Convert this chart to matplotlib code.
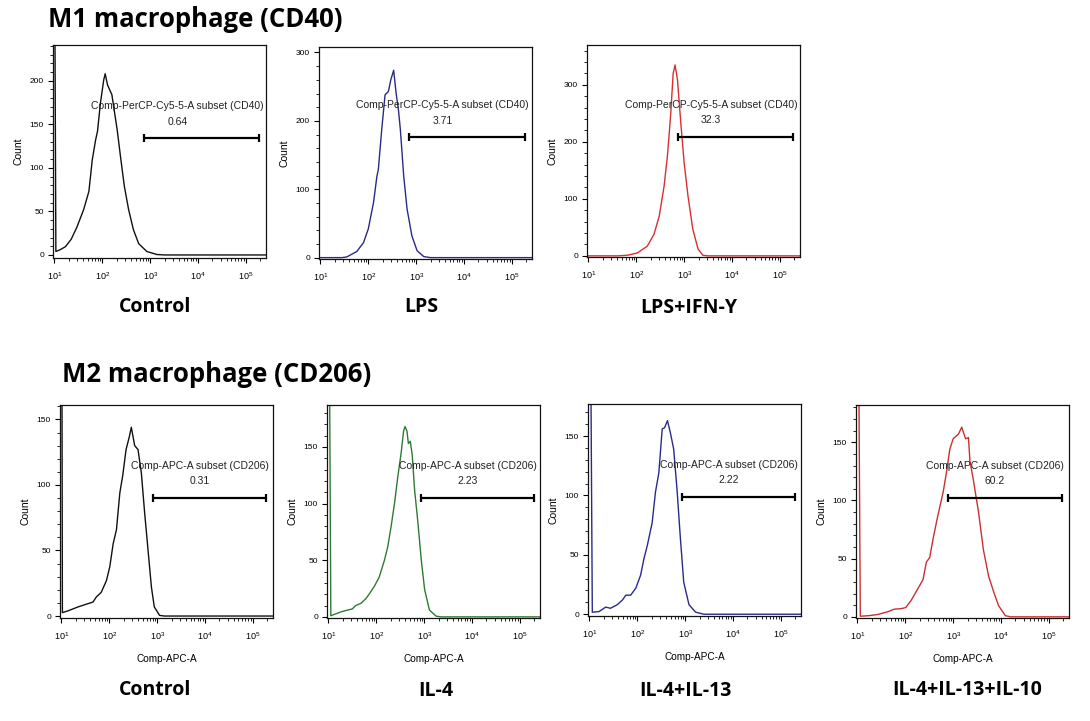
import numpy as np
import matplotlib
matplotlib.use("Agg")
import matplotlib.pyplot as plt
from matplotlib.ticker import MultipleLocator, LogLocator, NullFormatter

plt.rcParams['font.family'] = ['Liberation Sans', 'DejaVu Sans']
plt.rcParams['mathtext.default'] = 'regular'

W, H = 1090, 721

# ---------------- data (x in log10 fluorescence, y = count) ----------------
m1_names = ["Control", "LPS", "LPS+IFN-Y"]
m2_names = ["Control", "IL-4", "IL-4+IL-13", "IL-4+IL-13+IL-10"]
gate_values = ["0.64", "3.71", "32.3", "0.31", "2.23", "2.22", "60.2"]
gate_names = ["Comp-PerCP-Cy5-5-A subset (CD40)", "Comp-APC-A subset (CD206)"]

m1_ctrl_log = [1.00, 1.03, 1.12, 1.23, 1.35, 1.47, 1.61, 1.72, 1.79, 1.86, 1.90, 1.96,
               2.03, 2.06, 2.11, 2.20, 2.31, 2.38, 2.46, 2.55, 2.65, 2.76, 2.93, 3.14, 3.30, 5.45]
m1_ctrl_cnt = [400, 4, 6, 9.5, 18, 32, 52, 73, 109, 132, 142, 174,
               201, 208, 195, 184, 144, 113, 79, 52, 29, 13, 4, 0.5, 0, 0]

m1_lps_log = [0.97, 1.45, 1.55, 1.76, 1.90, 2.00, 2.11, 2.18, 2.21, 2.28, 2.35, 2.42,
              2.47, 2.53, 2.58, 2.63, 2.67, 2.74, 2.81, 2.91, 3.02, 3.16, 3.30, 5.45]
m1_lps_cnt = [0, 0, 1, 9, 22, 42, 81, 119, 129, 187, 238, 243,
              260, 274, 241, 216, 187, 119, 71, 32, 10, 1.5, 0, 0]

m1_ifn_log = [0.97, 1.60, 1.81, 2.02, 2.23, 2.37, 2.48, 2.58, 2.65, 2.72, 2.77, 2.81,
              2.86, 2.93, 3.00, 3.08, 3.18, 3.29, 3.39, 3.50, 5.45]
m1_ifn_cnt = [0, 0, 1, 5, 17, 38, 70, 122, 175, 250, 320, 335,
              309, 233, 163, 105, 47, 12, 1, 0, 0]

m2_ctrl_log = [1.00, 1.02, 1.14, 1.35, 1.56, 1.66, 1.73, 1.83, 1.94, 2.01, 2.08, 2.15,
               2.22, 2.28, 2.35, 2.42, 2.46, 2.53, 2.60, 2.67, 2.74, 2.81, 2.88, 2.94,
               3.05, 3.15, 5.45]
m2_ctrl_cnt = [400, 2.6, 4, 7, 9.5, 10.7, 14.6, 18, 27, 37.6, 55, 66,
               94, 107, 127, 137, 144, 130, 127, 109, 78, 50, 22, 7,
               0.5, 0, 0]

m2_il4_log = [1.00, 1.05, 1.26, 1.40, 1.50, 1.57, 1.68, 1.78, 1.85, 1.96, 2.06, 2.17,
              2.24, 2.31, 2.38, 2.45, 2.52, 2.57, 2.60, 2.64, 2.67, 2.71, 2.75, 2.80,
              2.87, 2.94, 3.01, 3.11, 3.25, 3.35, 5.45]
m2_il4_cnt = [400, 1, 4.4, 6, 7, 10, 12, 16, 20, 27, 35, 50,
              62, 80, 100, 124, 145, 164, 168, 164, 153, 155, 143, 112,
              83, 50, 24, 6, 0.6, 0, 0]

m2_il413_log = [1.00, 1.06, 1.20, 1.34, 1.44, 1.58, 1.69, 1.76, 1.86, 1.97, 2.07, 2.14,
                2.21, 2.31, 2.38, 2.45, 2.52, 2.57, 2.63, 2.69, 2.76, 2.83, 2.90, 2.97,
                3.08, 3.22, 3.39, 5.45]
m2_il413_cnt = [400, 1.7, 2.2, 6, 5, 8, 12, 16, 16, 22, 33, 47,
                58, 77, 103, 119, 156, 157, 163, 153, 139, 105, 64, 27,
                8, 1.7, 0, 0]

m2_il41310_log = [1.00, 1.06, 1.24, 1.42, 1.63, 1.77, 1.91, 2.01, 2.12, 2.26, 2.37, 2.44,
                  2.51, 2.58, 2.68, 2.79, 2.86, 2.93, 3.00, 3.11, 3.18, 3.21, 3.26, 3.32,
                  3.35, 3.42, 3.53, 3.63, 3.74, 3.85, 3.95, 4.09, 4.20, 5.45]
m2_il41310_cnt = [400, 0.5, 1, 2, 4.3, 6.6, 7, 8, 14, 24, 32, 47,
                  51, 67, 87, 107, 124, 144, 153, 157, 163, 159, 153, 154,
                  134, 118, 90, 58, 35, 21, 9.5, 1, 0, 0]

# gates: (log10 low, log10 high, count level)
gate_lo = [2.87, 2.85, 2.87, 2.91, 2.93, 2.93, 2.89]
gate_hi = [5.27, 5.27, 5.27, 5.27, 5.29, 5.29, 5.27]
gate_y = [134, 176, 209, 90, 105, 99, 102]

# ---------------- layout ----------------
fig = plt.figure(figsize=(W / 100, H / 100), dpi=100)
fig.patch.set_facecolor('white')
BOLD_FAM = ['Open Sans', 'DejaVu Sans']

def fig_axes(l, t, r, b):
    return fig.add_axes([l / W, 1 - b / H, (r - l) / W, (b - t) / H])

panels = [
    dict(box=(53, 45, 266, 258), x=m1_ctrl_log, y=m1_ctrl_cnt, c='#111111', ylim=(-3.5, 241),
         major=50, minor=10, name=m1_names[0], lab=(155, 307), gname=0, xlabel=False),
    dict(box=(319, 47, 532, 259), x=m1_lps_log, y=m1_lps_cnt, c='#2a2a88', ylim=(-2, 308),
         major=100, minor=20, name=m1_names[1], lab=(421, 307), gname=0, xlabel=False),
    dict(box=(587, 45, 800, 257), x=m1_ifn_log, y=m1_ifn_cnt, c='#d83030', ylim=(-2, 370),
         major=100, minor=20, name=m1_names[2], lab=(689, 308), gname=0, xlabel=False),
    dict(box=(60, 405, 273, 618), x=m2_ctrl_log, y=m2_ctrl_cnt, c='#111111', ylim=(-1.5, 161),
         major=50, minor=10, name=m2_names[0], lab=(155, 690), gname=1, xlabel=True),
    dict(box=(327, 405, 540, 618), x=m2_il4_log, y=m2_il4_cnt, c='#2f7a35', ylim=(-1, 187),
         major=50, minor=10, name=m2_names[1], lab=(436, 691), gname=1, xlabel=True),
    dict(box=(588, 404, 801, 616), x=m2_il413_log, y=m2_il413_cnt, c='#2a2a8c', ylim=(-1.5, 177),
         major=50, minor=10, name=m2_names[2], lab=(685, 691), gname=1, xlabel=True),
    dict(box=(856, 405, 1069, 618), x=m2_il41310_log, y=m2_il41310_cnt, c='#c93030', ylim=(-1, 182),
         major=50, minor=10, name=m2_names[3], lab=(967, 690), gname=1, xlabel=True),
]

for i, p in enumerate(panels):
    ax = fig_axes(*p['box'])
    ax.plot(10 ** np.array(p['x']), p['y'], color=p['c'], lw=1.0)
    ax.set_xscale('log')
    ax.set_xlim(10 ** 0.97, 10 ** 5.42)
    ax.set_ylim(*p['ylim'])
    ax.xaxis.set_major_locator(LogLocator(base=10, numticks=10))
    ax.xaxis.set_minor_locator(LogLocator(base=10, subs=np.arange(2, 10), numticks=20))
    ax.xaxis.set_minor_formatter(NullFormatter())
    ax.yaxis.set_major_locator(MultipleLocator(p['major']))
    ax.yaxis.set_minor_locator(MultipleLocator(p['minor']))
    ax.tick_params(axis='both', which='major', length=3.5, width=0.8, labelsize=6, direction='out')
    ax.tick_params(axis='both', which='minor', length=2, width=0.6, direction='out')
    ax.tick_params(axis='x', which='major', pad=5, labelsize=6.5)
    ax.tick_params(axis='y', which='major', pad=3)
    for s in ax.spines.values():
        s.set_linewidth(0.9)
        s.set_color('#111111')
    ax.set_ylabel('Count', fontsize=7.5)
    ax.yaxis.set_label_coords(-0.14, 0.5)
    if p['xlabel']:
        ax.set_xlabel('Comp-APC-A', fontsize=7.2)
        ax.xaxis.set_label_coords(0.5, -0.17)
    # gate
    lo, hi, gy = 10 ** gate_lo[i], 10 ** gate_hi[i], gate_y[i]
    ax.plot([lo, hi], [gy, gy], color='black', lw=1.6, marker='|', ms=6, mew=1.6,
            solid_capstyle='butt')
    dx = 24 if p['gname'] == 0 else 34
    ax.annotate(gate_names[p['gname']], xy=(lo, gy), xytext=(dx, 23), textcoords='offset points',
                ha='center', va='center', fontsize=7.5, color='#222222')
    ax.annotate(gate_values[i], xy=(lo, gy), xytext=(dx, 12), textcoords='offset points',
                ha='center', va='center', fontsize=7.5, color='#222222')
    fig.text(p['lab'][0] / W, 1 - p['lab'][1] / H, p['name'], ha='center', va='center',
             fontsize=14, fontweight='bold', family=BOLD_FAM)

fig.text(48 / W, 1 - 27 / H, 'M1 macrophage (CD40)', ha='left', va='baseline',
         fontsize=18.5, fontweight='bold', family=BOLD_FAM)
fig.text(62 / W, 1 - 382 / H, 'M2 macrophage (CD206)', ha='left', va='baseline',
         fontsize=18.5, fontweight='bold', family=BOLD_FAM)

fig.savefig('out.png', dpi=100, facecolor='white')
